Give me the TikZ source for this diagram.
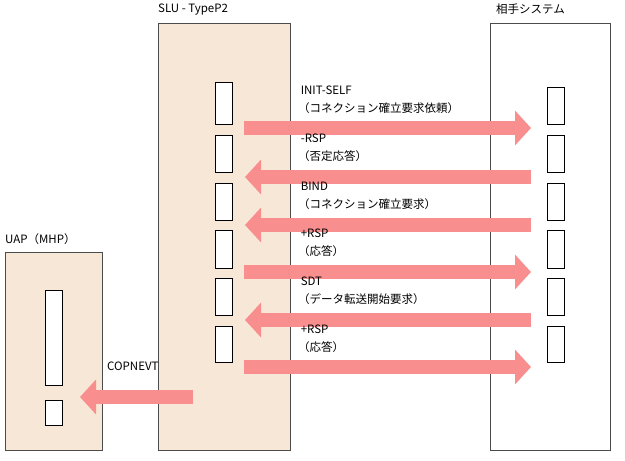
\documentclass[tikz,border=0pt]{standalone}
\usepackage{fontspec}
\setmainfont{Noto Sans CJK JP}
\usetikzlibrary{arrows.meta}
\definecolor{ar}{HTML}{F88E8E}
\definecolor{bg}{HTML}{F7E7D7}
\begin{document}
\begin{tikzpicture}[x=1pt,y=-1pt,
  big/.style={draw=black!70,line width=0.6pt},
  sm/.style={draw=black,fill=white,line width=0.6pt},
  fat/.style={draw=ar,line width=14pt,-{Triangle[length=16pt 0 0,width=34pt 0 0]}},
  lbl/.style={anchor=north west,inner sep=0pt,font=\fontsize{11.5}{18}\selectfont,align=left}]
\useasboundingbox (0,0) rectangle (625,461);
\draw[big,fill=bg] (158,23) rectangle (290,450);
\draw[big,fill=white] (490,23) rectangle (610,450);
\draw[big,fill=bg] (5,252) rectangle (102,450);
\node[lbl] (t1) at (158,4) {SLU - TypeP2};
\node[lbl] (t2) at (496,4) {相手システム};
\node[lbl] (t3) at (5,233) {UAP（MHP）};
\foreach \a/\c/\b in {82/87/124,135/135/172,183/183/220,230/230/268,278/278/315,326/326/362}{
  \draw[sm] (215,\a) rectangle (232,\b);
  \draw[sm] (547,\c) rectangle (564,\b);
}
\draw[sm] (45,290) rectangle (62,385);
\draw[sm] (45,400) rectangle (62,425);
\coordinate (L1) at (244,128); \coordinate (R1) at (531,128);
\coordinate (L2) at (245,177); \coordinate (R2) at (531,177);
\coordinate (L3) at (245,225); \coordinate (R3) at (531,225);
\coordinate (L4) at (244,272); \coordinate (R4) at (531,272);
\coordinate (L5) at (245,320); \coordinate (R5) at (531,320);
\coordinate (L6) at (244,367); \coordinate (R6) at (531,367);
\coordinate (C1) at (193,397); \coordinate (C2) at (80,397);
\draw[fat] (L1) -- (R1);
\draw[fat] (R2) -- (L2);
\draw[fat] (R3) -- (L3);
\draw[fat] (L4) -- (R4);
\draw[fat] (R5) -- (L5);
\draw[fat] (L6) -- (R6);
\draw[fat] (C1) -- (C2);
\node[lbl] (a1) at (298,86) {\ INIT-SELF\\（コネクション確立要求依頼）};
\node[lbl] (a2) at (298,134) {\ -RSP\\（否定応答）};
\node[lbl] (a3) at (298,182) {\ BIND\\（コネクション確立要求）};
\node[lbl] (a4) at (298,229) {\ +RSP\\（応答）};
\node[lbl] (a5) at (298,277) {\ SDT\\（データ転送開始要求）};
\node[lbl] (a6) at (298,325) {\ +RSP\\（応答）};
\node[lbl] (a7) at (107,362) {COPNEVT};
\end{tikzpicture}
\end{document}
